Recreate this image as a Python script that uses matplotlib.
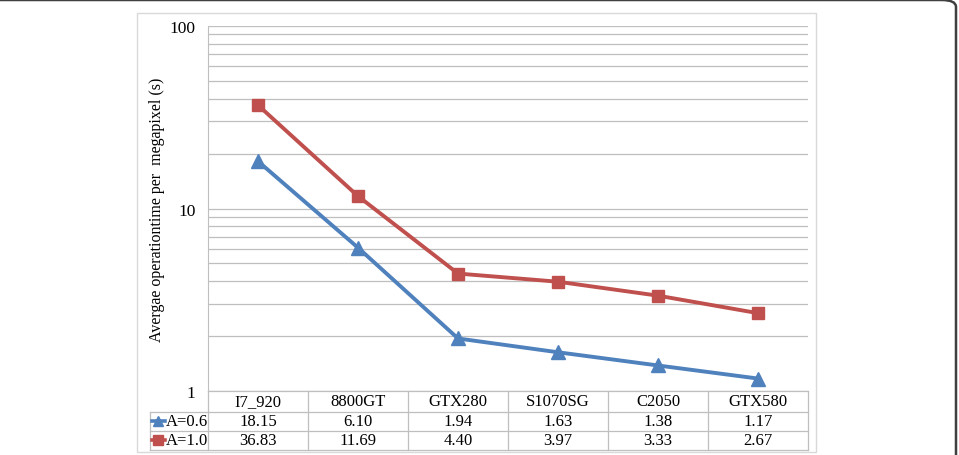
import numpy as np
import matplotlib
matplotlib.use('Agg')
import matplotlib.pyplot as plt
from matplotlib.lines import Line2D
from matplotlib.patches import Rectangle, FancyBboxPatch

plt.rcParams['font.family'] = ['Liberation Serif', 'DejaVu Serif']

# data
gpus = ['I7_920', '8800GT', 'GTX280', 'S1070SG', 'C2050', 'GTX580']
a06 = [18.15, 6.10, 1.94, 1.63, 1.38, 1.17]
a10 = [36.83, 11.69, 4.40, 3.97, 3.33, 2.67]
names = ['A=0.6', 'A=1.0']

blue = '#4F81BD'
red = '#C0504D'
grid = '#BFBFBF'

W, H = 959, 456
fig = plt.figure(figsize=(W / 100, H / 100), dpi=100)

# outer rounded frame and light chart border (pixel coords)
def px(x, y):
    return x / W, 1 - y / H

fig.patches.append(FancyBboxPatch(px(-20, 470), 976 / W, 469 / H,
                                  boxstyle='round,pad=0,rounding_size=0.015',
                                  transform=fig.transFigure, fill=False,
                                  edgecolor='#404040', linewidth=1.8))
fig.patches.append(Rectangle(px(137, 453), 679 / W, 439 / H,
                             transform=fig.transFigure, fill=False,
                             edgecolor='#D9D9D9', linewidth=1.0))

ax = fig.add_axes([208 / W, 1 - 392 / H, 600 / W, 365 / H])
x = np.arange(len(gpus))
ax.set_yscale('log')
ax.set_ylim(1, 100)
ax.set_xlim(-0.5, len(gpus) - 0.5)

ax.plot(x, a06, color=blue, lw=2.8, marker='^', ms=10, zorder=3)
ax.plot(x, a10, color=red, lw=2.8, marker='s', ms=8.5, zorder=3)

ax.grid(True, which='both', axis='y', color=grid, lw=0.9)
ax.set_xticks([])
ax.tick_params(axis='y', which='both', length=0, labelsize=12.5, pad=9)
ax.yaxis.set_minor_formatter(matplotlib.ticker.NullFormatter())
ax.set_yticks([1, 10, 100])
ax.set_yticklabels(['1', '10', '100'])
for s in ['top', 'right', 'bottom']:
    ax.spines[s].set_visible(False)
ax.spines['left'].set_color(grid)
ax.set_ylabel('Avergae operationtime per  megapixel (s)', fontsize=11.5)
ax.yaxis.set_label_coords(-0.072, 0.5)

# data table under the plot
tr = ax.get_xaxis_transform()
y_top, y_r1, y_r2, y_bot = 0.0, -0.0575, -0.1096, -0.1616
lc = '#BFBFBF'
ax.add_line(Line2D([-0.5, 5.5], [y_top, y_top], transform=tr, color=lc, lw=0.9, clip_on=False))
for yy in [y_r1, y_r2, y_bot]:
    ax.add_line(Line2D([-1.08, 5.5], [yy, yy], transform=tr, color=lc, lw=0.9, clip_on=False))
for xx in np.arange(-0.5, 6.0, 1.0):
    ax.add_line(Line2D([xx, xx], [y_top, y_bot], transform=tr, color=lc, lw=0.9, clip_on=False))
ax.add_line(Line2D([-1.08, -1.08], [y_r1, y_bot], transform=tr, color=lc, lw=0.9, clip_on=False))

fs = 12
for i, g in enumerate(gpus):
    ax.text(i, (y_top + y_r1) / 2, g, transform=tr, ha='center', va='center', fontsize=fs)
    ax.text(i, (y_r1 + y_r2) / 2, '%.2f' % a06[i], transform=tr, ha='center', va='center', fontsize=fs)
    ax.text(i, (y_r2 + y_bot) / 2, '%.2f' % a10[i], transform=tr, ha='center', va='center', fontsize=fs)

for (yc, col, mk, ms, nm) in [((y_r1 + y_r2) / 2, blue, '^', 7.5, names[0]),
                              ((y_r2 + y_bot) / 2, red, 's', 6.5, names[1])]:
    ax.add_line(Line2D([-1.065, -0.935], [yc, yc], transform=tr, color=col, lw=2.6, clip_on=False))
    ax.add_line(Line2D([-1.0], [yc], transform=tr, color=col, marker=mk, ms=ms, clip_on=False))
    ax.text(-0.925, yc, nm, transform=tr, ha='left', va='center', fontsize=fs)

fig.savefig('out.png', dpi=100)
